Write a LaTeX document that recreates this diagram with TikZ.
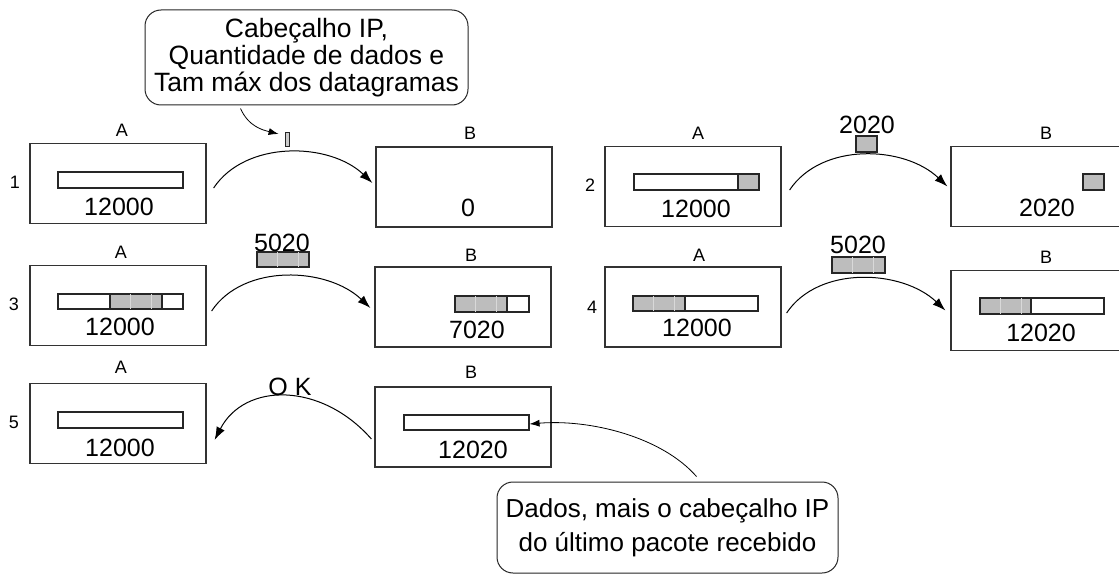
\documentclass[tikz,border=0pt]{standalone}
\usepackage{fontspec}
\setmainfont{Liberation Sans}
\usetikzlibrary{arrows.meta,calc}

\tikzset{
  panel/.style={draw=black!80, line width=1.2pt, minimum width=176pt, minimum height=80pt, inner sep=0pt},
  buffer/.style={draw=black!85, line width=1.1pt, fill=white, minimum height=16pt, inner sep=0pt},
  chunk/.style={draw=black!85, line width=1.1pt, fill=black!26, minimum height=16pt, inner sep=0pt},
  seam/.style={white!85!black, line width=0.6pt},
  hostlbl/.style={font=\fontsize{18}{18}\selectfont, inner sep=0pt},
  stepno/.style={font=\fontsize{18}{18}\selectfont, inner sep=0pt},
  count/.style={font=\fontsize{25}{25}\selectfont, inner sep=0pt},
  callout/.style={draw=black!85, line width=1pt, rounded corners=16pt, align=center, inner sep=0pt},
  flow/.style={line width=1pt, -{Latex[length=13pt,width=9pt]}},
  pointer/.style={line width=0.8pt, -{Latex[length=10pt,width=7pt]}},
}

\begin{document}
\begin{tikzpicture}[x=1pt,y=-1pt]
\useasboundingbox (0,0) rectangle (1119,575);
\fill[white] (0,0) rectangle (1119,575);
\clip (0,0) rectangle (1119,575);

% ---------- host boxes ----------
\node[panel] (a1) at (118,183.5) {};
\node[panel] (b1) at (464,187) {};
\node[panel] (a2) at (693,186.5) {};
\node[panel] (b2) at (1039,186.5) {};
\node[panel] (a3) at (118,305.5) {};
\node[panel] (b3) at (463,307) {};
\node[panel] (a4) at (693,307) {};
\node[panel] (b4) at (1039,310.5) {};
\node[panel] (a5) at (118,423.5) {};
\node[panel] (b5) at (463,427) {};

% ---------- host names ----------
\node[hostlbl] (a1n) at (122,130) {A};
\node[hostlbl] (b1n) at (470,133) {B};
\node[hostlbl] (a2n) at (698,133) {A};
\node[hostlbl] (b2n) at (1046,133) {B};
\node[hostlbl] (a3n) at (121,252) {A};
\node[hostlbl] (b3n) at (471,255) {B};
\node[hostlbl] (a4n) at (699,255) {A};
\node[hostlbl] (b4n) at (1046,257) {B};
\node[hostlbl] (a5n) at (121,367) {A};
\node[hostlbl] (b5n) at (471,372) {B};

% ---------- step numbers ----------
\node[stepno] (s1) at (15,182) {1};
\node[stepno] (s2) at (590,185) {2};
\node[stepno] (s3) at (14,304) {3};
\node[stepno] (s4) at (592,307) {4};
\node[stepno] (s5) at (14,422) {5};

% ---------- byte counts ----------
\node[count] (a1c) at (119,207) {12000};
\node[count] (b1c) at (468,208) {0};
\node[count] (a2c) at (696,209) {12000};
\node[count] (b2c) at (1047,208) {2020};
\node[count] (a3c) at (120,327) {12000};
\node[count] (b3c) at (477,330) {7020};
\node[count] (a4c) at (697,328) {12000};
\node[count] (b4c) at (1041,333) {12020};
\node[count] (a5c) at (120,448) {12000};
\node[count] (b5c) at (473,450) {12020};

% ---------- buffers ----------
% step 1
\node[buffer, minimum width=125pt] (a1buf) at (120.5,180) {};
% step 2
\node[buffer, minimum width=125pt] (a2buf) at (696.5,182) {};
\node[chunk, minimum width=21pt] (a2chk) at (748.5,182) {};
\node[chunk, minimum width=21pt] (b2chk) at (1093.5,182) {};
% step 3
\node[buffer, minimum width=125pt, minimum height=15pt] (a3buf) at (120.5,301.5) {};
\node[chunk, minimum width=52pt, minimum height=15pt] (a3chk) at (136,301.5) {};
\draw[seam] ($(a3chk.north west)+(21,1)$) -- ($(a3chk.south west)+(21,-1)$);
\draw[seam] ($(a3chk.north west)+(42,1)$) -- ($(a3chk.south west)+(42,-1)$);
\node[buffer, minimum width=74pt] (b3buf) at (492,304) {};
\node[chunk, minimum width=52pt] (b3chk) at (481,304) {};
\draw[seam] ($(b3chk.north west)+(21,1)$) -- ($(b3chk.south west)+(21,-1)$);
\draw[seam] ($(b3chk.north west)+(42,1)$) -- ($(b3chk.south west)+(42,-1)$);
% step 4
\node[buffer, minimum width=125pt, minimum height=15pt] (a4buf) at (695.5,303.5) {};
\node[chunk, minimum width=52pt, minimum height=15pt] (a4chk) at (659,303.5) {};
\draw[seam] ($(a4chk.north west)+(21,1)$) -- ($(a4chk.south west)+(21,-1)$);
\draw[seam] ($(a4chk.north west)+(42,1)$) -- ($(a4chk.south west)+(42,-1)$);
\node[buffer, minimum width=124pt] (b4buf) at (1042,306) {};
\node[chunk, minimum width=51pt] (b4chk) at (1005.5,306) {};
\draw[seam] ($(b4chk.north west)+(21,1)$) -- ($(b4chk.south west)+(21,-1)$);
\draw[seam] ($(b4chk.north west)+(42,1)$) -- ($(b4chk.south west)+(42,-1)$);
% step 5
\node[buffer, minimum width=125pt] (a5buf) at (120.5,420) {};
\node[buffer, minimum width=125pt, minimum height=15pt] (b5buf) at (466.5,422.5) {};

% ---------- datagrams in transit ----------
\node[chunk, fill=black!20, line width=0.8pt, minimum width=4pt, minimum height=14pt] (p1) at (287,139) {};
\node[chunk, minimum width=21pt] (p2) at (866.5,144) {};
\node[count] (p2l) at (867,125) {2020};
\node[chunk, minimum width=52pt, minimum height=15pt] (p3) at (283,259.5) {};
\draw[seam] ($(p3.north west)+(21,1)$) -- ($(p3.south west)+(21,-1)$);
\draw[seam] ($(p3.north west)+(42,1)$) -- ($(p3.south west)+(42,-1)$);
\node[count] (p3l) at (282,243) {5020};
\node[chunk, minimum width=53pt] (p4) at (858.5,265) {};
\draw[seam] ($(p4.north west)+(21,1)$) -- ($(p4.south west)+(21,-1)$);
\draw[seam] ($(p4.north west)+(42,1)$) -- ($(p4.south west)+(42,-1)$);
\node[count] (p4l) at (858,245) {5020};
\node[font=\fontsize{25}{25}\selectfont, inner sep=0pt] (ok) at (290,387) {O K};

% ---------- transfers ----------
\draw[flow] ($(a1.east)+(7,4.5)$) .. controls +(32,-48) and +(-43,-41) .. ($(b1.west)+(-3,-4)$);
\draw[flow] ($(a2.east)+(8,3.5)$) .. controls +(32,-48) and +(-43,-41) .. ($(b2.west)+(-3,0)$);
\draw[flow] ($(a3.east)+(5,5.5)$) .. controls +(32,-48) and +(-43,-41) .. ($(b3.west)+(-4,1)$);
\draw[flow] ($(a4.east)+(5,6)$) .. controls +(32,-48) and +(-43,-41) .. ($(b4.west)+(-5,0)$);
\draw[flow] ($(b5.west)+(-3,12)$) .. controls +(-50,-57) and +(30,-58) .. ($(a5.east)+(8,16.5)$);

% ---------- notes ----------
\node[callout, minimum width=323pt, minimum height=95pt,
      font=\fontsize{26.5}{27}\selectfont] (note1) at (306.5,57.5)
      {Cabeçalho IP,\\Quantidade de dados e\\Tam máx dos datagramas};
\node[callout, minimum width=341pt, minimum height=91pt,
      font=\fontsize{26}{34}\selectfont] (note2) at (667.5,527.5)
      {Dados, mais o cabeçalho IP\\do último pacote recebido};

\draw[pointer] ($(note1.south)+(-66,3)$) .. controls +(8,18) and +(-16,-4) .. ($(p1.west)+(-6,-5)$);
\draw[pointer] ($(note2.north)+(29,-5)$) .. controls +(-35,-40) and +(60,-5) .. ($(b5buf.east)+(0,1.5)$);
\end{tikzpicture}
\end{document}
